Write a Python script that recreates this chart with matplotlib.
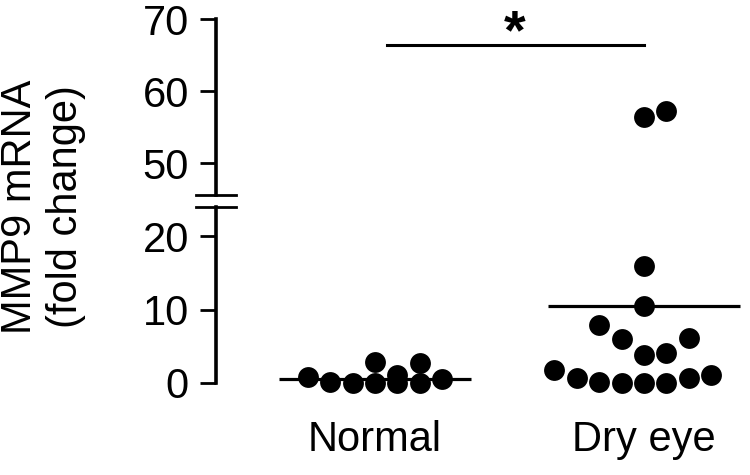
import numpy as np
import matplotlib
matplotlib.use("Agg")
from matplotlib import pyplot as plt

plt.rcParams['font.family'] = ['Liberation Sans', 'DejaVu Sans']

# donnees
categories = ["Normal", "Dry eye"]
normal_vals = [0.8, 0.15, 0.0, 0.0, 2.9, 1.1, 0.0, 2.7, 0.0, 0.55]
dry_vals = [0.0, 0.0, 0.0, 0.1, 0.7, 0.7, 1.1, 1.8, 3.8, 4.1, 6.0, 6.1, 7.9,
            10.5, 15.9, 56.4, 57.2]
mean_lines = [0.55, 10.5]
low_ticks = [0, 10, 20]
high_ticks = [50, 60, 70]
signif = "*"

# colonnes du nuage de points (disposition type GraphPad)
normal_slot = [-3, -2, -1, 0, 0, 1, 1, 2, 2, 3]
dry_slot = [0, 1, -1, -2, 2, -3, 3, -4, 0, 1, -1, 2, -2, 0, 0, 0, 1]
pas = 0.0833
demi_ligne = 0.358

fig = plt.figure(figsize=(7.5, 4.75), dpi=100)
ax_bas = fig.add_axes([0.288, 0.1705, 0.712, 0.3937])
ax_haut = fig.add_axes([0.288, 0.5895, 0.712, 0.3705])

xlim = (-0.591, 1.394)
for ax in (ax_bas, ax_haut):
  ax.set_xlim(*xlim)
  ax.spines['top'].set_visible(False)
  ax.spines['right'].set_visible(False)
  ax.spines['left'].set_linewidth(2.6)
  ax.tick_params(axis='y', length=11.5, width=2, labelsize=30, pad=8)
  ax.patch.set_alpha(0)
  for k, (vals, slots) in enumerate([(normal_vals, normal_slot), (dry_vals, dry_slot)]):
    xs = k + np.array(slots) * pas
    ax.plot(xs, vals, "o", color="k", markersize=15, markeredgewidth=0, clip_on=True)
    ax.plot([k - demi_ligne, k + demi_ligne], [mean_lines[k]] * 2, color="k", lw=2.3,
            solid_capstyle='butt')

ax_bas.set_ylim(-1.5, 23.95)
ax_bas.spines['left'].set_bounds(0, 23.95)
ax_bas.spines['bottom'].set_visible(False)
ax_bas.set_yticks(low_ticks)
ax_bas.set_xticks([0, 1])
ax_bas.set_xticklabels(categories, fontsize=30)
ax_bas.tick_params(axis='x', length=0, pad=19)

ax_haut.set_ylim(45.56, 70)
ax_haut.spines['bottom'].set_visible(False)
ax_haut.set_yticks(high_ticks)
ax_haut.set_xticks([])

# marques de coupure de l'axe
d = 20 / 534.0
ax_haut.plot([-d, d], [0, 0], transform=ax_haut.transAxes, color="k", lw=2, clip_on=False)
ax_bas.plot([-d, d], [1, 1], transform=ax_bas.transAxes, color="k", lw=2, clip_on=False)

# barre de significativite
ax_haut.plot([0.045, 1.0], [66.4, 66.4], color="k", lw=2.2, clip_on=False)
ax_haut.text(0.52, 65.9, signif, ha='center', va='baseline', fontsize=40,
             fontweight='bold', clip_on=False)

fig.text(43 / 750, 1 - 207 / 475, "MMP9 mRNA\n(fold change)", rotation=90,
         ha='center', va='center', fontsize=30, multialignment='center')

fig.savefig("out.png", dpi=100)
